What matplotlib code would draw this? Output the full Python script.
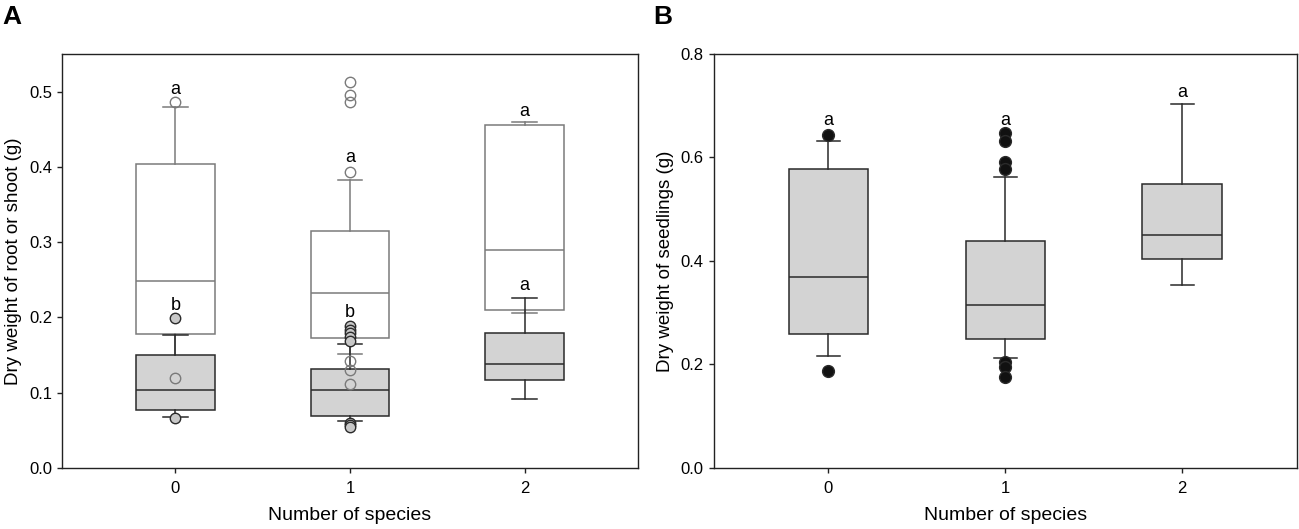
import matplotlib
matplotlib.use("Agg")
from matplotlib import pyplot as plt

plt.rcParams['font.family'] = ['Liberation Sans', 'DejaVu Sans']

positions = [0, 1, 2]
tick_labels = ["0", "1", "2"]

# panel A, shoot (white boxes)
shoot_q1 = [0.178, 0.173, 0.210]
shoot_med = [0.249, 0.233, 0.290]
shoot_q3 = [0.404, 0.315, 0.456]
shoot_lo = [0.145, 0.152, 0.206]
shoot_hi = [0.479, 0.383, 0.460]
shoot_out = [[0.486, 0.119], [0.513, 0.496, 0.486, 0.393, 0.142, 0.130, 0.112], []]

# panel A, root (gray boxes)
root_q1 = [0.077, 0.069, 0.1165]
root_med = [0.103, 0.104, 0.1385]
root_q3 = [0.150, 0.132, 0.179]
root_lo = [0.0675, 0.063, 0.092]
root_hi = [0.177, 0.165, 0.226]
root_out = [[0.199, 0.066], [0.189, 0.183, 0.179, 0.174, 0.169, 0.060, 0.057, 0.054], []]

# panel B, seedlings
seed_q1 = [0.258, 0.2485, 0.404]
seed_med = [0.370, 0.3155, 0.4505]
seed_q3 = [0.577, 0.438, 0.548]
seed_lo = [0.2166, 0.2116, 0.3545]
seed_hi = [0.6315, 0.563, 0.704]
seed_out = [[0.643, 0.187], [0.647, 0.631, 0.591, 0.577, 0.204, 0.196, 0.176], []]

# significance letters (text, baseline y)
letters_shoot = ["a", "a", "a"]
letters_shoot_y = [0.497, 0.4065, 0.468]
letters_root = ["b", "b", "a"]
letters_root_y = [0.210, 0.200, 0.236]
letters_seed = ["a", "a", "a"]
letters_seed_y = [0.663, 0.663, 0.717]


def make_stats(q1, med, q3, lo, hi, out):
    return [dict(q1=q1[i], med=med[i], q3=q3[i], whislo=lo[i], whishi=hi[i], fliers=out[i])
            for i in range(len(q1))]


def draw(ax, stats, edge, face, flier_face, capw, msize, zo, flier_z):
    res = ax.bxp(stats, positions=positions, widths=0.45, capwidths=capw,
                 showfliers=True, patch_artist=True, manage_ticks=False,
                 boxprops=dict(facecolor=face, edgecolor=edge, linewidth=1.1),
                 medianprops=dict(color=edge, linewidth=1.1),
                 whiskerprops=dict(color=edge, linewidth=1.1),
                 capprops=dict(color=edge, linewidth=1.1),
                 flierprops=dict(marker='o', markerfacecolor=flier_face,
                                 markeredgecolor=edge, markersize=msize, linestyle='none'),
                 zorder=zo)
    # open circles stay visible on top of the other boxes
    for f in res['fliers']:
        f.set_zorder(flier_z)


def style(ax, ylim, yticks, ylabel):
    ax.set_xlim(-0.65, 2.65)
    ax.set_ylim(*ylim)
    ax.set_xticks(positions)
    ax.set_xticklabels(tick_labels)
    ax.set_yticks(yticks)
    ax.set_yticklabels(["%.1f" % t for t in yticks])
    ax.tick_params(direction='out', length=3.6, width=1.0, labelsize=12, color='#222222')
    ax.tick_params(axis='x', pad=6)
    for s in ax.spines.values():
        s.set_linewidth(1.0)
        s.set_color('#222222')
    ax.set_xlabel("Number of species", fontsize=14, labelpad=8)
    ax.set_ylabel(ylabel, fontsize=13.5, labelpad=5)


fig = plt.figure(figsize=(12.99, 5.29), dpi=100)
axA = fig.add_axes([0.0477, 0.1153, 0.4435, 0.7827])
axB = fig.add_axes([0.5493, 0.1153, 0.4492, 0.7827])

draw(axA, make_stats(shoot_q1, shoot_med, shoot_q3, shoot_lo, shoot_hi, shoot_out),
     '#7a7a7a', 'white', 'none', 0.14, 7.5, 2, 4)
draw(axA, make_stats(root_q1, root_med, root_q3, root_lo, root_hi, root_out),
     '#2a2a2a', '#d3d3d3', '#c8c8c8', 0.14, 7.5, 3, 3.5)
draw(axB, make_stats(seed_q1, seed_med, seed_q3, seed_lo, seed_hi, seed_out),
     '#2a2a2a', '#d3d3d3', '#111111', 0.13, 8.5, 3, 3.5)

for i, p in enumerate(positions):
    axA.text(p, letters_shoot_y[i], letters_shoot[i], ha='center', va='baseline', fontsize=13, zorder=5)
    axA.text(p, letters_root_y[i], letters_root[i], ha='center', va='baseline', fontsize=13, zorder=5)
    axB.text(p, letters_seed_y[i], letters_seed[i], ha='center', va='baseline', fontsize=13, zorder=5)

style(axA, (0, 0.55), [0.0, 0.1, 0.2, 0.3, 0.4, 0.5], "Dry weight of root or shoot (g)")
style(axB, (0, 0.8), [0.0, 0.2, 0.4, 0.6, 0.8], "Dry weight of seedlings (g)")

fig.text(0.002, 0.99, "A", fontsize=19, fontweight='bold', ha='left', va='top')
fig.text(0.503, 0.99, "B", fontsize=19, fontweight='bold', ha='left', va='top')

fig.savefig("out.png", dpi=100)
